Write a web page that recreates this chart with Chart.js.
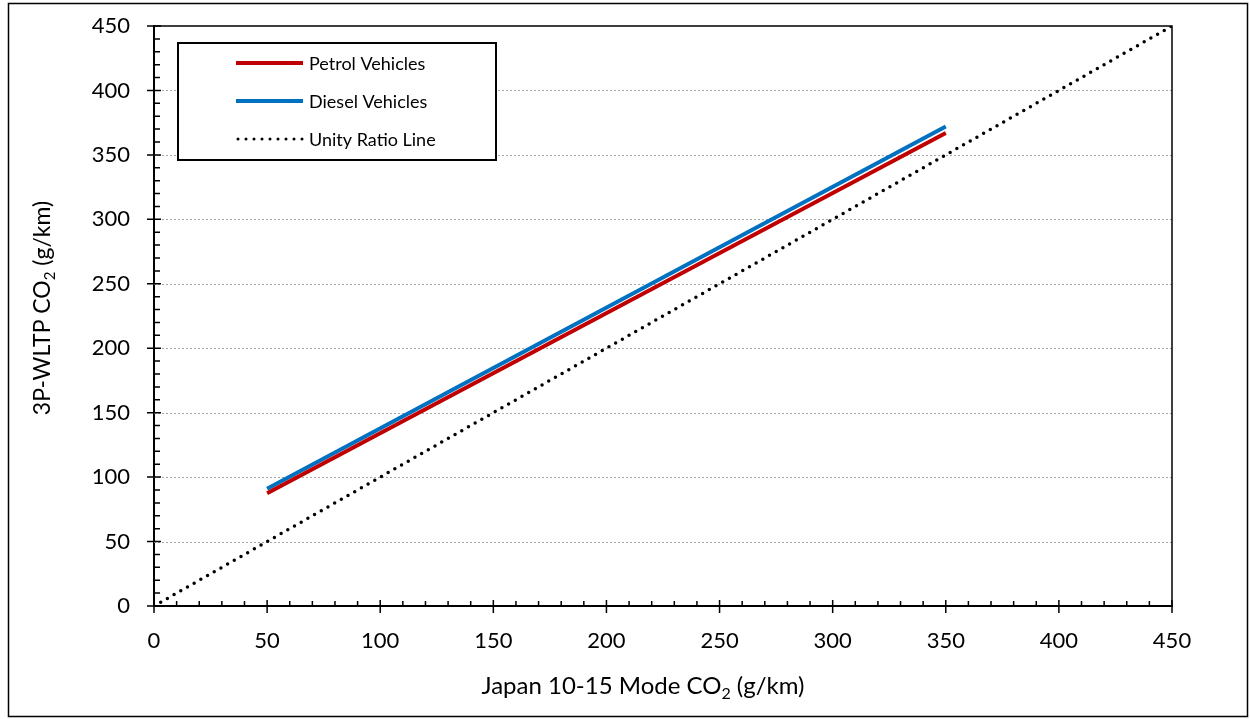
<!DOCTYPE html>
<html>
<head>
<meta charset="utf-8">
<script src="https://cdn.jsdelivr.net/npm/chart.js@4.4.1/dist/chart.umd.min.js"></script>
<style>
  html, body { margin: 0; padding: 0; background: #fff; }
  #wrap { width: 1250px; height: 719px; position: relative; }
</style>
</head>
<body>
<div id="wrap"><canvas id="co2Chart"></canvas></div>
<script>
// Japan 10-15 mode CO2 (x) against 3P-WLTP CO2 (y), g/km
var modeCO2 = [50, 350];
var petrolWLTP = [87.5, 367];
var dieselWLTP = [91, 372];
var unityX = [0, 450];
var unityY = [0, 450];
var axisMin = 0, axisMax = 450, majorStep = 50, minorStep = 10;
var xTitle = ['Japan 10-15 Mode CO', '2', ' (g/km)'];
var yTitle = ['3P-WLTP CO', '2', ' (g/km)'];

var FONT = 'Lato, "Noto Sans", sans-serif';

function toPoints(xs, ys) {
    return xs.map(function (x, i) { return { x: x, y: ys[i] }; });
}

// draws "CO" + subscript 2 + rest, centred on cx, baseline at 0
function drawSubTitle(ctx, parts, cx, size) {
    var big = size + 'px ' + FONT, small = Math.round(size * 0.65) + 'px ' + FONT;
    ctx.font = big;
    var w0 = ctx.measureText(parts[0]).width, w2 = ctx.measureText(parts[2]).width;
    ctx.font = small;
    var w1 = ctx.measureText(parts[1]).width;
    var x = cx - (w0 + w1 + w2) / 2;
    ctx.textAlign = 'left';
    ctx.textBaseline = 'alphabetic';
    ctx.font = big;
    ctx.fillText(parts[0], x, 0);
    ctx.font = small;
    ctx.fillText(parts[1], x + w0, size * 0.22);
    ctx.font = big;
    ctx.fillText(parts[2], x + w0 + w1, 0);
}

// gridlines, minor/major ticks, plot frame and axis titles
var axesPlugin = {
    id: 'axesDecor',
    beforeDatasetsDraw: function (chart) {
        var ctx = chart.ctx, a = chart.chartArea, ys = chart.scales.y;
        ctx.save();
        ctx.strokeStyle = '#a6a6a6';
        ctx.lineWidth = 1;
        ctx.setLineDash([2, 2]);
        for (var v = axisMin + majorStep; v < axisMax; v += majorStep) {
            var py = Math.round(ys.getPixelForValue(v)) + 0.5;
            ctx.beginPath();
            ctx.moveTo(a.left, py);
            ctx.lineTo(a.right, py);
            ctx.stroke();
        }
        ctx.restore();
    },
    afterDraw: function (chart) {
        var ctx = chart.ctx, a = chart.chartArea;
        var xs = chart.scales.x, ys = chart.scales.y;
        ctx.save();
        ctx.strokeStyle = '#000';
        ctx.lineWidth = 1.5;
        // top and right of plot box
        ctx.beginPath();
        ctx.moveTo(a.left, a.top);
        ctx.lineTo(a.right, a.top);
        ctx.lineTo(a.right, a.bottom);
        ctx.stroke();
        // ticks
        for (var v = axisMin; v <= axisMax; v += minorStep) {
            var major = (v % majorStep) === 0;
            var px = xs.getPixelForValue(v);
            var py = ys.getPixelForValue(v);
            ctx.beginPath();
            if (major) {
                ctx.moveTo(px, a.bottom - 6); ctx.lineTo(px, a.bottom + 7);
                ctx.moveTo(a.left - 7, py); ctx.lineTo(a.left + 7, py);
            } else {
                ctx.moveTo(px, a.bottom); ctx.lineTo(px, a.bottom - 5);
                ctx.moveTo(a.left, py); ctx.lineTo(a.left + 6, py);
            }
            ctx.stroke();
        }
        // outer frame
        ctx.strokeRect(8.5, 3.5, 1239, 713);

        // axis titles
        ctx.fillStyle = '#000';
        ctx.save();
        ctx.translate(0, 694);
        drawSubTitle(ctx, xTitle, 643, 24);
        ctx.restore();
        ctx.save();
        ctx.translate(50, 0);
        ctx.rotate(-Math.PI / 2);
        drawSubTitle(ctx, yTitle, -308, 23);
        ctx.restore();
        ctx.restore();
    }
};

// boxed legend inside the plot
var boxLegend = {
    id: 'boxLegend',
    afterDraw: function (chart) {
        var ctx = chart.ctx;
        var bx = 178, by = 43, bw = 318, bh = 117;
        ctx.save();
        ctx.fillStyle = '#fff';
        ctx.fillRect(bx, by, bw, bh);
        ctx.strokeStyle = '#000';
        ctx.lineWidth = 2;
        ctx.strokeRect(bx, by, bw, bh);
        ctx.font = '18px ' + FONT;
        ctx.textBaseline = 'middle';
        chart.data.datasets.forEach(function (ds, i) {
            var ly = 63 + i * 38;
            ctx.beginPath();
            ctx.strokeStyle = ds.borderColor;
            ctx.lineWidth = ds.borderDash ? 3 : 4;
            ctx.lineCap = ds.borderDash ? 'round' : 'butt';
            ctx.setLineDash(ds.borderDash ? [0, 8] : []);
            ctx.moveTo(ds.borderDash ? 238 : 236, ly);
            ctx.lineTo(303, ly);
            ctx.stroke();
            ctx.setLineDash([]);
            ctx.fillStyle = '#000';
            ctx.fillText(ds.label, 309, ly + 1);
        });
        ctx.restore();
    }
};

var ctx = document.getElementById('co2Chart').getContext('2d');
var co2Chart = new Chart(ctx, {
    type: 'scatter',
    data: {
        datasets: [{
            label: 'Petrol Vehicles',
            data: toPoints(modeCO2, petrolWLTP),
            borderColor: '#c00000',
            borderWidth: 4,
            showLine: true,
            pointRadius: 0
        }, {
            label: 'Diesel Vehicles',
            data: toPoints(modeCO2, dieselWLTP),
            borderColor: '#0070c0',
            borderWidth: 4,
            showLine: true,
            pointRadius: 0
        }, {
            label: 'Unity Ratio Line',
            data: toPoints(unityX, unityY),
            borderColor: '#000',
            borderWidth: 3.5,
            borderDash: [0, 7.7],
            borderCapStyle: 'round',
            showLine: true,
            pointRadius: 0
        }]
    },
    options: {
        responsive: true,
        maintainAspectRatio: false,
        devicePixelRatio: 1,
        animation: false,
        layout: { padding: { top: 26, right: 78, left: 0, bottom: 0 } },
        plugins: {
            legend: { display: false },
            tooltip: { enabled: false }
        },
        scales: {
            x: {
                type: 'linear',
                min: axisMin,
                max: axisMax,
                afterFit: function (s) { s.height = 113; },
                ticks: {
                    stepSize: majorStep,
                    color: '#000',
                    font: { family: FONT, size: 22 },
                    padding: 22,
                    maxRotation: 0
                },
                grid: { display: false, drawTicks: false },
                border: { display: true, color: '#000', width: 2 }
            },
            y: {
                type: 'linear',
                min: axisMin,
                max: axisMax,
                afterFit: function (s) { s.width = 154; },
                ticks: {
                    stepSize: majorStep,
                    color: '#000',
                    font: { family: FONT, size: 22 },
                    padding: 0
                },
                grid: { display: false, drawTicks: true, tickLength: 24 },
                border: { display: true, color: '#000', width: 2 }
            }
        }
    },
    plugins: [axesPlugin, boxLegend]
});
</script>
</body>
</html>
